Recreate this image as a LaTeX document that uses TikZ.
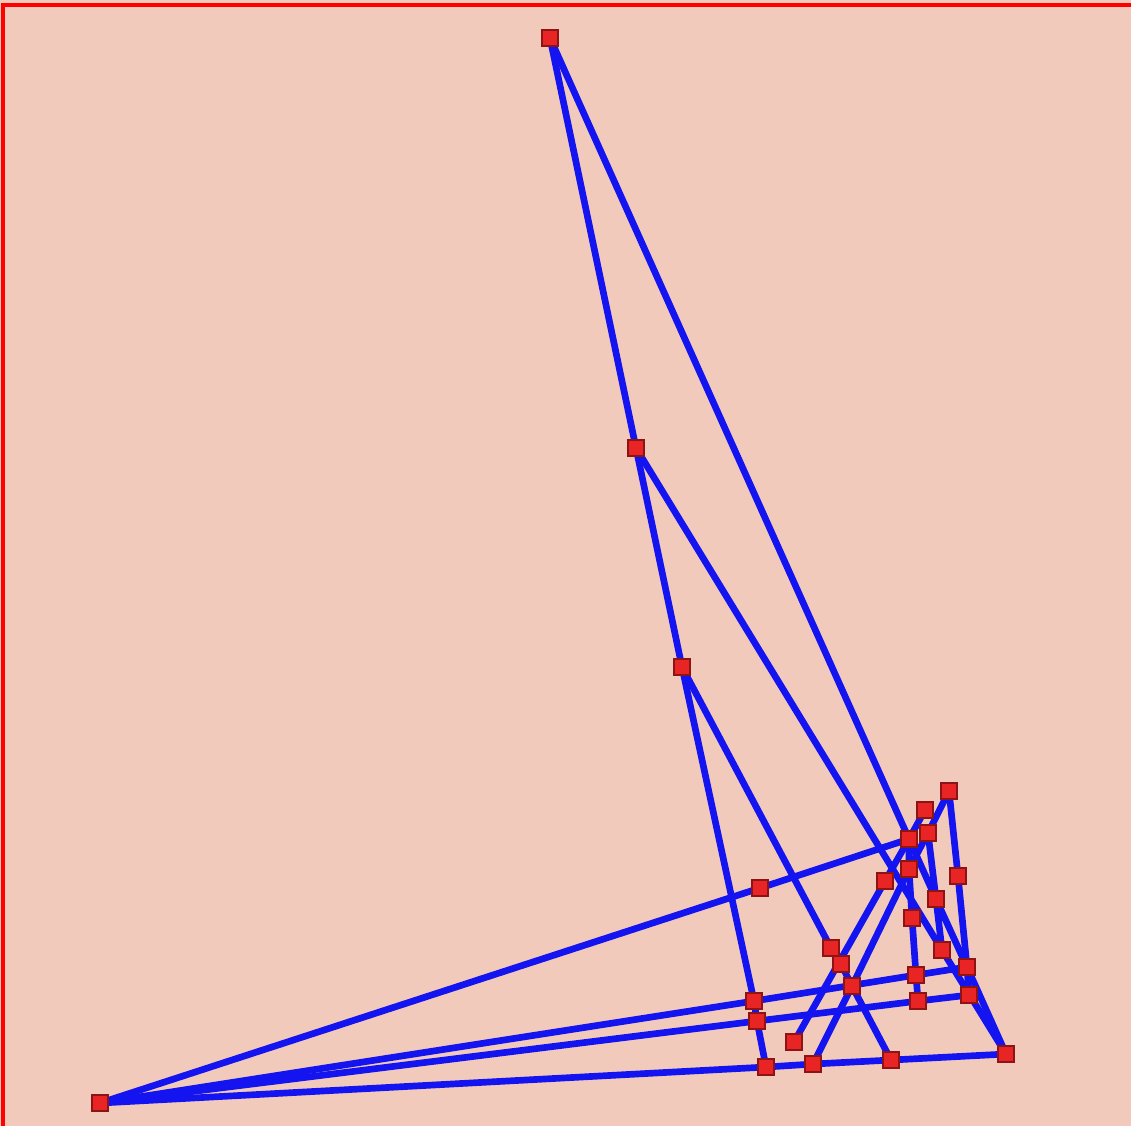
\documentclass[tikz,border=0pt]{standalone}
\usetikzlibrary{backgrounds}

\definecolor{paper}{RGB}{242,202,188}
\definecolor{vred}{RGB}{232,36,36}
\definecolor{vdark}{RGB}{140,20,20}
\definecolor{wire}{RGB}{20,20,240}

\begin{document}
\begin{tikzpicture}[
    x=0.01cm, y=-0.01cm,
    vert/.style={draw=vdark, fill=vred, line width=0.7pt,
                 minimum size=0.16cm, inner sep=0pt},
    edge/.style={draw=wire, line width=1.9pt, line cap=round, line join=round}
  ]
  \useasboundingbox (0,0) rectangle (1131,1126);

  % vertices
  \node[vert] (va)  at (550,38)   {};
  \node[vert] (vb)  at (636,448)  {};
  \node[vert] (vc)  at (682,667)  {};
  \node[vert] (vd)  at (949,791)  {};
  \node[vert] (ve)  at (925,810)  {};
  \node[vert] (vf)  at (909,839)  {};
  \node[vert] (vg)  at (928,833)  {};
  \node[vert] (vh)  at (760,888)  {};
  \node[vert] (vi)  at (885,881)  {};
  \node[vert] (vj)  at (909,869)  {};
  \node[vert] (vk)  at (958,876)  {};
  \node[vert] (vl)  at (936,899)  {};
  \node[vert] (vm)  at (912,918)  {};
  \node[vert] (vn)  at (831,948)  {};
  \node[vert] (vo)  at (841,964)  {};
  \node[vert] (vp)  at (942,950)  {};
  \node[vert] (vq)  at (967,967)  {};
  \node[vert] (vr)  at (916,975)  {};
  \node[vert] (vs)  at (852,986)  {};
  \node[vert] (vt)  at (969,995)  {};
  \node[vert] (vu)  at (918,1001) {};
  \node[vert] (vv)  at (754,1001) {};
  \node[vert] (vw)  at (757,1021) {};
  \node[vert] (vx)  at (794,1042) {};
  \node[vert] (vy)  at (1006,1054) {};
  \node[vert] (vz)  at (891,1060) {};
  \node[vert] (vaa) at (813,1064) {};
  \node[vert] (vab) at (766,1067) {};
  \node[vert] (vac) at (100,1103) {};

  \begin{pgfonlayer}{background}
    \fill[paper] (0,0) rectangle (1131,1126);
    \draw[red, line width=1pt] (3,1126) -- (3,5) -- (1131,5);

    % edges
    \draw[edge] (va.center) -- (vb.center) -- (vc.center) -- (vv.center)
                -- (vw.center) -- (vab.center);
    \draw[edge] (va.center) -- (vf.center) -- (vl.center) -- (vq.center)
                -- (vy.center);
    \draw[edge] (vb.center) -- (vp.center) -- (vy.center);
    \draw[edge] (vc.center) -- (vn.center) -- (vo.center) -- (vs.center)
                -- (vz.center);
    \draw[edge] (vac.center) -- (vh.center) -- (vf.center);
    \draw[edge] (vac.center) -- (vv.center) -- (vr.center) -- (vq.center);
    \draw[edge] (vac.center) -- (vw.center) -- (vu.center) -- (vt.center);
    \draw[edge] (vac.center) -- (vab.center) -- (vaa.center) -- (vz.center)
                -- (vy.center);
    \draw[edge] (vx.center) -- (vi.center) -- (vf.center) -- (ve.center);
    \draw[edge] (vaa.center) -- (vs.center) -- (vj.center) -- (vg.center)
                -- (vd.center);
    \draw[edge] (vd.center) -- (vk.center) -- (vq.center) -- (vt.center);
    \draw[edge] (vg.center) -- (vl.center) -- (vp.center);
    \draw[edge] (vf.center) -- (vj.center) -- (vm.center) -- (vr.center)
                -- (vu.center);
  \end{pgfonlayer}
\end{tikzpicture}
\end{document}
